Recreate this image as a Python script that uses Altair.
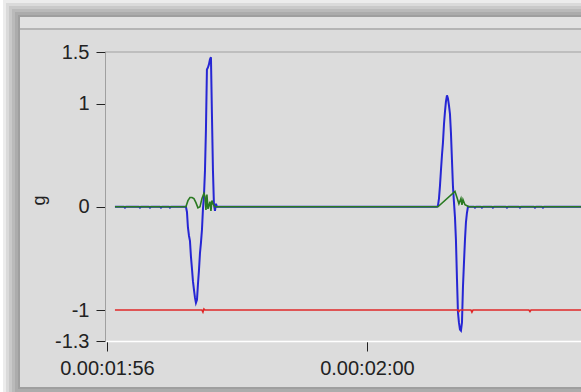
import altair as alt
import pandas as pd

# Acceleration traces (g) against recording time in seconds
blue_time = [116.123, 116.262, 116.277, 116.292, 116.492, 116.508, 116.523,
             116.646, 116.662, 116.677, 116.815, 116.831, 116.846, 116.954,
             116.969, 116.985, 117.215, 117.231, 117.246, 117.262, 117.277,
             117.292, 117.308, 117.323, 117.338, 117.354, 117.369, 117.385,
             117.400, 117.415, 117.431, 117.446, 117.462, 117.477, 117.492,
             117.508, 117.523, 117.538, 117.554, 117.569, 117.585, 117.600,
             117.615, 117.631, 117.646, 117.662, 117.677, 117.692, 121.077,
             121.092, 121.108, 121.123, 121.138, 121.154, 121.169, 121.185,
             121.200, 121.215, 121.231, 121.246, 121.262, 121.277, 121.292,
             121.308, 121.323, 121.338, 121.354, 121.369, 121.385, 121.400,
             121.415, 121.431, 121.446, 121.462, 121.477, 121.492, 121.508,
             121.523, 121.538, 121.554, 121.646, 121.662, 121.677, 121.754,
             121.769, 121.785, 121.923, 121.938, 121.954, 122.138, 122.154,
             122.169, 122.338, 122.354, 122.369, 122.569, 122.585, 122.600,
             122.692, 122.708, 122.723, 123.293]
blue_g = [0.0, 0.0, -0.008, 0.0, 0.0, -0.008, 0.0,
          0.0, -0.008, 0.0, 0.0, -0.008, 0.0, 0.0,
          -0.008, 0.0, 0.0, -0.05, -0.20, -0.28, -0.33,
          -0.48, -0.60, -0.72, -0.80, -0.88, -0.93, -0.90,
          -0.75, -0.62, -0.45, -0.35, -0.22, -0.02, 0.10,
          0.35, 0.75, 1.33, 1.35, 1.38, 1.43, 1.45,
          0.90, 0.35, 0.02, -0.04, 0.03, 0.0, 0.0,
          0.01, 0.08, 0.20, 0.35, 0.50, 0.62, 0.80,
          0.92, 1.02, 1.08, 1.05, 0.98, 0.90, 0.72,
          0.45, 0.20, 0.05, -0.10, -0.32, -0.70, -1.02,
          -1.12, -1.19, -1.20, -1.12, -0.78, -0.55, -0.32,
          -0.15, -0.06, 0.0, 0.0, -0.008, 0.0, 0.0,
          -0.008, 0.0, 0.0, -0.008, 0.0, 0.0, -0.008,
          0.0, 0.0, -0.008, 0.0, 0.0, -0.008, 0.0,
          0.0, -0.008, 0.0, 0.0]

green_time = [116.123, 117.215, 117.246, 117.277, 117.308, 117.338, 117.369,
              117.400, 117.431, 117.462, 117.492, 117.508, 117.523, 117.538,
              117.554, 117.585, 117.600, 117.615, 117.631, 117.662, 121.092,
              121.354, 121.385, 121.415, 121.446, 121.462, 121.477, 121.508,
              121.538, 121.569, 123.293]
green_g = [0.0, 0.0, 0.06, 0.09, 0.09, 0.08, 0.04,
           -0.01, 0.0, 0.08, 0.13, 0.10, -0.03, 0.12,
           -0.02, 0.05, -0.04, 0.06, 0.03, 0.0, 0.0,
           0.15, 0.09, 0.03, 0.08, 0.02, 0.07, 0.02,
           0.01, 0.0, 0.0]

red_time = [116.123, 117.462, 117.477, 117.492, 117.508, 121.400, 121.415,
            121.431, 121.600, 121.615, 121.631, 122.492, 122.508, 122.523,
            123.293]
red_g = [-1.0, -1.0, -1.02, -0.99, -1.0, -1.0, -1.015,
         -1.0, -1.0, -1.02, -1.0, -1.0, -1.015, -1.0,
         -1.0]

x_ticks = [116, 120]
y_ticks = [-1.3, -1, 0, 1, 1.5]
y_title = "g"

FONT = "Liberation Sans"
W, H = 476, 289

x_scale = alt.Scale(domain=[115.97, 123.293], nice=False, zero=False)
y_scale = alt.Scale(domain=[-1.3, 1.5], nice=False, zero=False)

x_axis = alt.Axis(
    values=x_ticks,
    labelExpr="'0.00:' + pad(floor(datum.value / 60), 2, '0', 'left') + ':' + pad(datum.value % 60, 2, '0', 'left')",
    title=None, grid=False, domainColor="#ffffff", domainWidth=1.5,
    tickColor="#222222", tickSize=10, tickWidth=1,
    labelFont=FONT, labelFontSize=20, labelColor="#222222",
    labelPadding=7, labelFlush=False, labelOverlap=False, zindex=1,
)
y_axis = alt.Axis(
    values=y_ticks, labelExpr="'' + datum.value",
    title=y_title, titleFont=FONT, titleFontSize=18, titleFontWeight="normal",
    titleColor="#222222", titleAngle=270, titleAlign="center",
    titleBaseline="middle", titleX=-66, titleY=148,
    grid=False, domainColor="#a0a0a0", domainWidth=1,
    tickColor="#222222", tickSize=9, tickWidth=1,
    labelFont=FONT, labelFontSize=20, labelColor="#222222",
    labelPadding=7, labelFlush=False, labelOverlap=False, zindex=1,
)


def trace(times, values, color, width):
    df = pd.DataFrame({"t": times, "g": values})
    return alt.Chart(df).mark_line(color=color, strokeWidth=width).encode(
        x=alt.X("t:Q", scale=x_scale, axis=x_axis),
        y=alt.Y("g:Q", scale=y_scale, axis=y_axis),
    )


one = pd.DataFrame({"k": [0]})


def box(x0, x1, y0, y1, color, opacity=1.0):
    return alt.Chart(one).mark_rect(color=color, opacity=opacity).encode(
        x=alt.value(x0), x2=alt.value(x1), y=alt.value(y0), y2=alt.value(y1)
    )


# window panel with a soft drop shadow, positioned relative to the plot origin
WX0, WY0, WY1 = -85, -35, 335
shadow = [box(WX0 - k, W + 60, WY0 - k, WY1 + k, "#000000", 0.075)
          for k in (17, 14, 11, 8, 5, 2)]
panel = box(WX0, W + 60, WY0, WY1, "#dcdcdc")
header = box(WX0, W + 60, WY0, -24, "#e2e2e2")
header_rule = alt.Chart(one).mark_rule(color="#a8a8a8", strokeWidth=1.5).encode(
    x=alt.value(WX0), x2=alt.value(W + 60), y=alt.value(-23)
)
top_rule = alt.Chart(one).mark_rule(color="#a0a0a0", strokeWidth=1).encode(
    x=alt.value(0), x2=alt.value(W + 10), y=alt.value(0)
)

chart = alt.layer(
    *shadow, panel, header, header_rule, top_rule,
    trace(blue_time, blue_g, "#2626d4", 2),
    trace(green_time, green_g, "#2a7a22", 1.6),
    trace(red_time, red_g, "#e02828", 1.6),
).properties(
    width=W, height=H,
    autosize=alt.AutoSizeParams(type="none"),
    padding={"left": 105, "top": 52, "right": 0, "bottom": 51},
    background="#ffffff",
).configure_view(strokeWidth=0)

chart.save("out.html", embed_options={"renderer": "svg", "actions": False})
